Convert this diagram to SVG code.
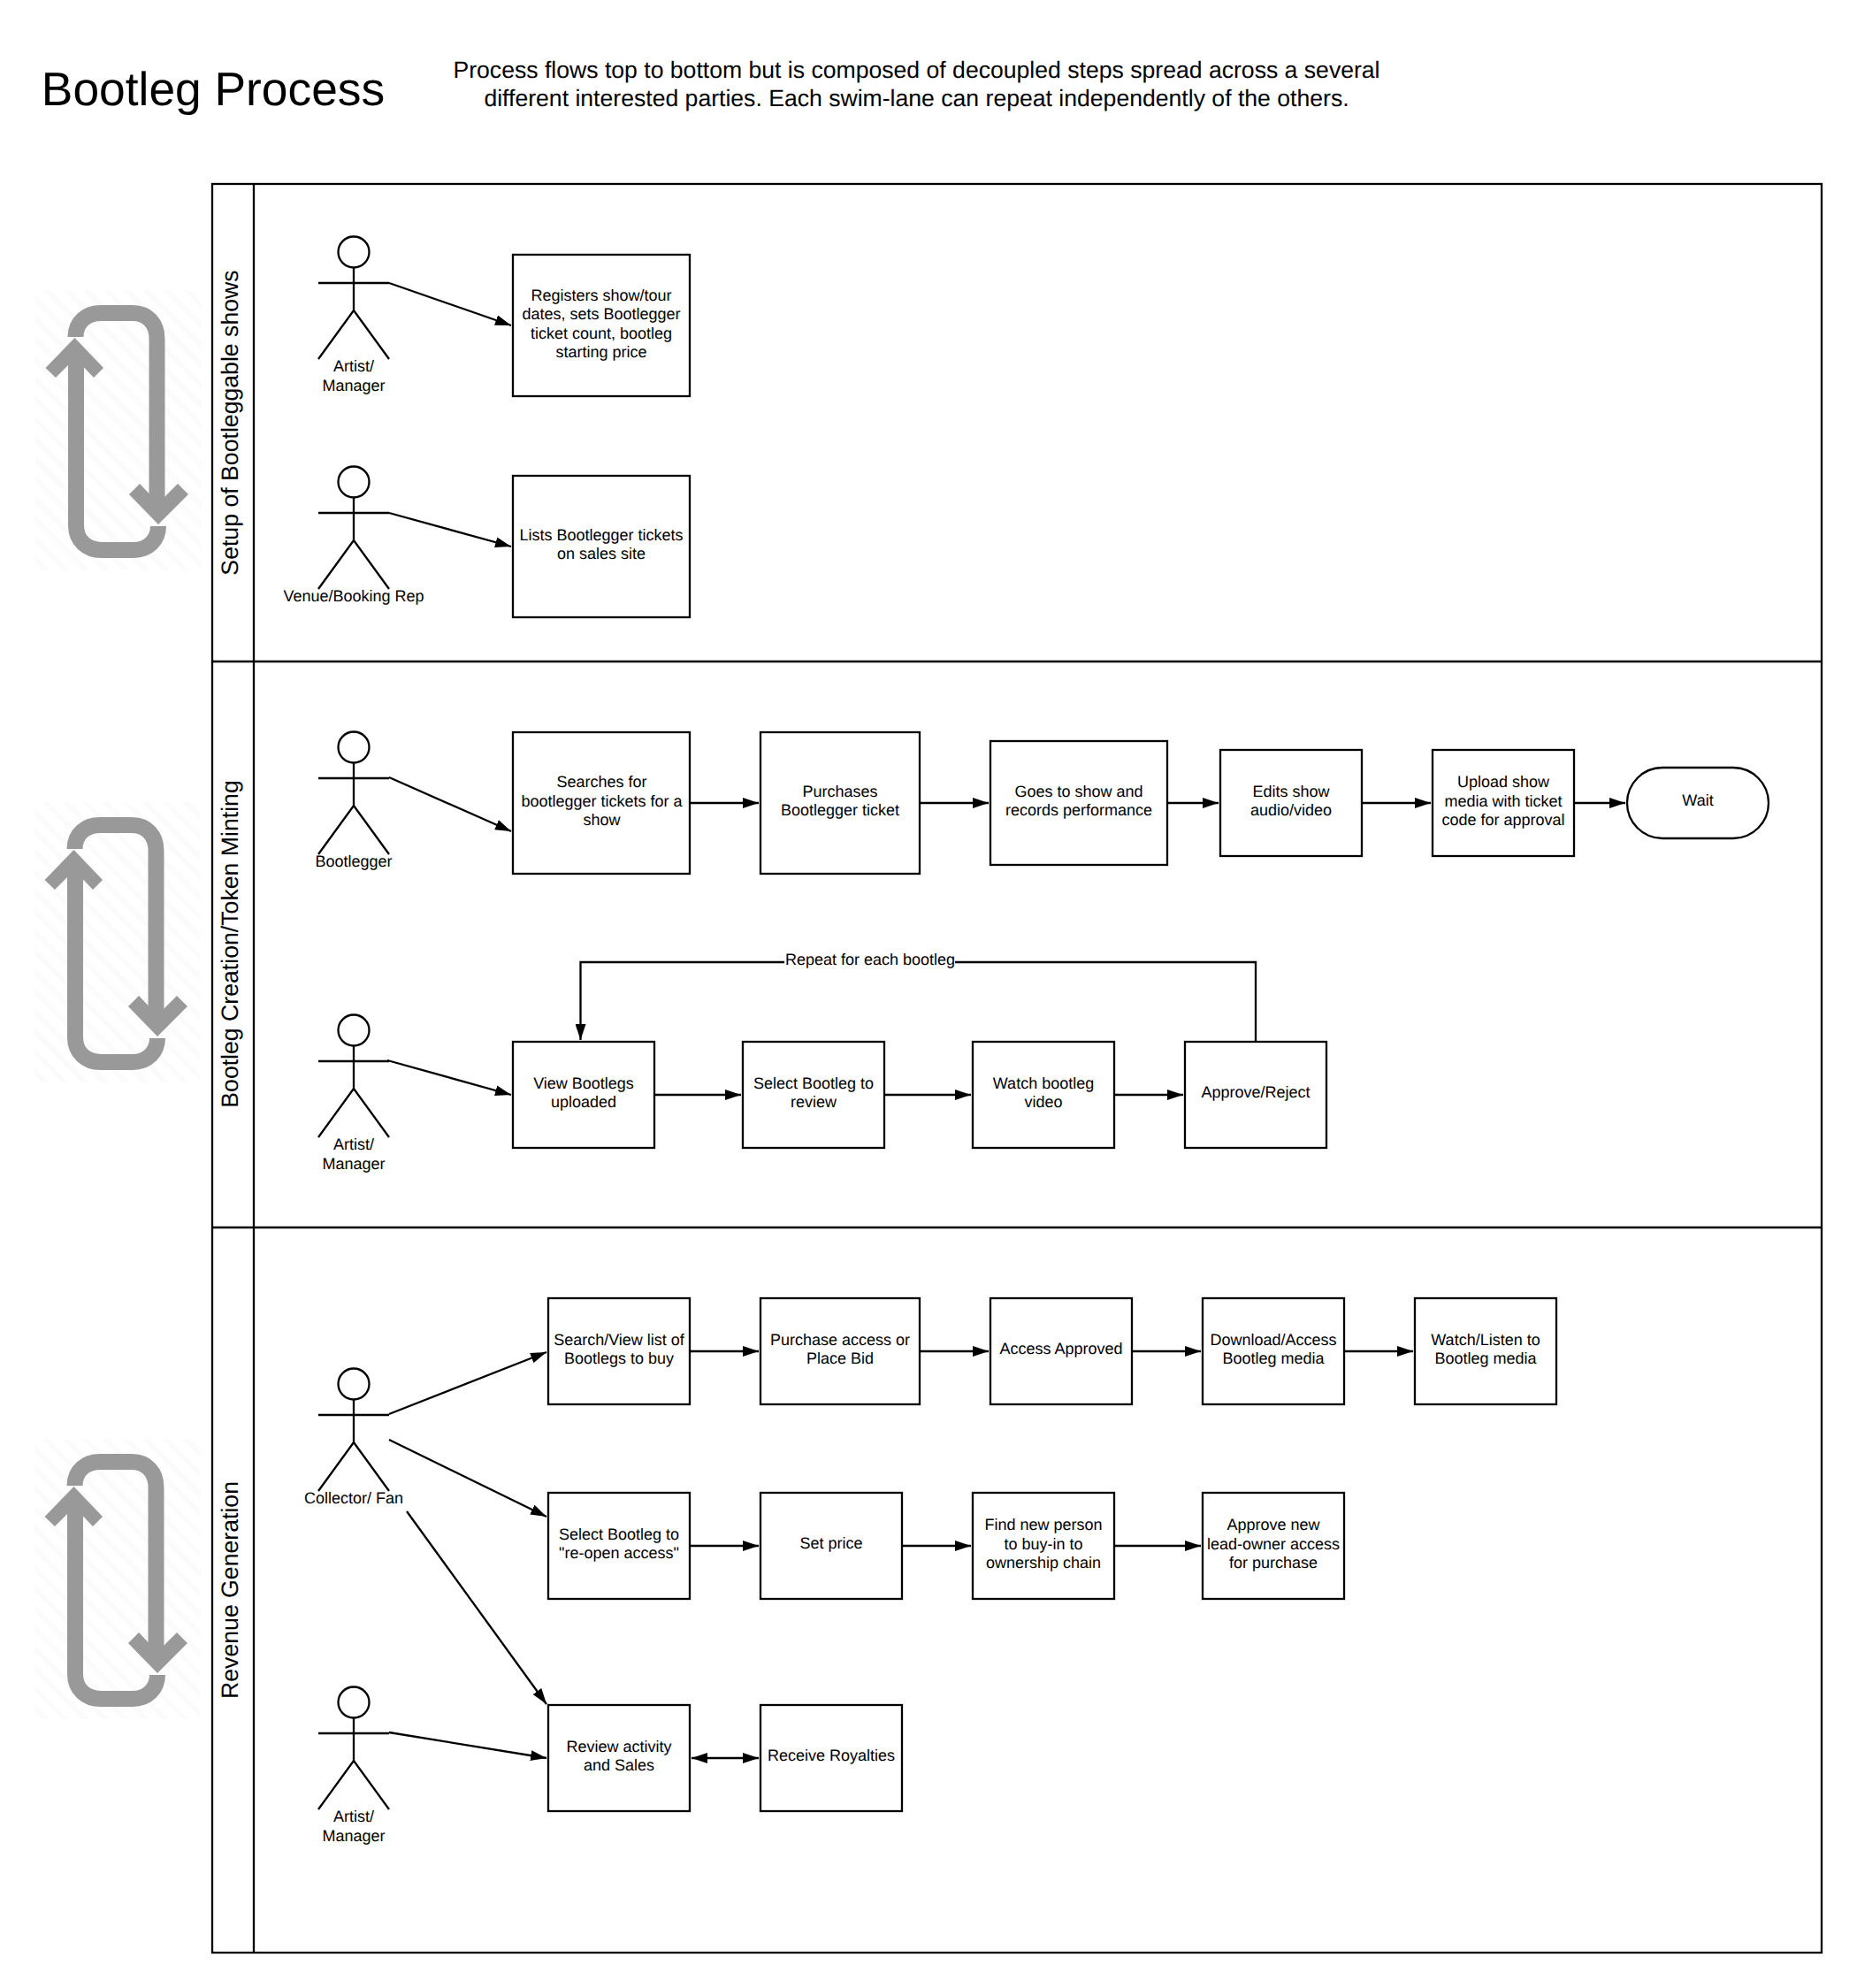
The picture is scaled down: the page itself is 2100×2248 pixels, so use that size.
<svg xmlns="http://www.w3.org/2000/svg" width="2100" height="2248" viewBox="0 0 2100 2248">
<style>
text{font-family:"Liberation Sans",Arial,sans-serif;fill:#000;text-anchor:middle;text-rendering:geometricPrecision}
.t{font-size:18px}
.box{fill:#fff;stroke:#000;stroke-width:2.3}
.ln{fill:none;stroke:#000;stroke-width:2.3}
.c{fill:none;stroke:#000;stroke-width:2.3;marker-end:url(#a)}
.lane{fill:none;stroke:#000;stroke-width:2.3}
.lt{font-size:26.67px}
.g{fill:none;stroke:#999;stroke-width:18}
.gf{fill:#999}
</style>
<defs>
<marker id="a" markerUnits="userSpaceOnUse" markerWidth="18" markerHeight="12" refX="18" refY="6" orient="auto"><path d="M0 0L18 6L0 12z" fill="#000"/></marker>
<marker id="b" markerUnits="userSpaceOnUse" markerWidth="18" markerHeight="12" refX="0" refY="6" orient="auto"><path d="M18 0L0 6L18 12z" fill="#000"/></marker>
<pattern id="h" patternUnits="userSpaceOnUse" width="16" height="16" patternTransform="rotate(45)"><rect width="16" height="16" fill="#fff"/><rect y="0" width="16" height="6" fill="#fbfbfb"/></pattern>
<g id="actor" class="ln"><circle cx="400" cy="0" r="17.5" fill="#fff"/><path d="M400 17.5V66M360 35H440M360 121L400 66L440 121"/></g>
<g id="loop"><rect x="40" y="328" width="188" height="317" fill="url(#h)"/><path class="g" d="M85.5 380V381C85.5 364 98 354 114 354H150C167 354 177.500 366 177.500 383V572"/><path class="g" d="M86 405V594C86 611 98 622 115 622H151C168 622 179 610 179 595"/><path class="gf" d="M84.500 382L117 416L106 427L85 405L63 427L51.500 416zM179 593L213 559L201 547L179 569L158 547L146 559z"/></g>
</defs>
<rect width="2100" height="2248" fill="#fff"/>
<g id="header">
<text x="241" y="119" style="font-size:53.33px">Bootleg Process</text>
<text x="1036.500" y="88" style="font-size:26.6px">Process flows top to bottom but is composed of decoupled steps spread across a several</text>
<text x="1036.500" y="120" style="font-size:26.6px">different interested parties. Each swim-lane can repeat independently of the others.</text>
</g>
<g id="loops"><use href="#loop"/><use href="#loop" x="-1" y="579"/><use href="#loop" x="-1" y="1299"/></g>
<g id="lanes">
<rect class="lane" x="240" y="208" width="1820" height="2000"/>
<path class="lane" d="M287 208V2208M240 748H2060M240 1388H2060"/>
<text class="lt" transform="translate(269 478) rotate(-90)">Setup of Bootleggable shows</text>
<text class="lt" transform="translate(269 1067.500) rotate(-90)">Bootleg Creation/Token Minting</text>
<text class="lt" transform="translate(269 1798) rotate(-90)">Revenue Generation</text>
</g>
<g id="connectors">
<path class="c" d="M440 320L578 368"/>
<path class="c" d="M440 580L578 618"/>
<path class="c" d="M440 879L578 940"/>
<path class="c" d="M438 1199L578 1238"/>
<path class="c" d="M780 908H858"/>
<path class="c" d="M1040 908H1118"/>
<path class="c" d="M1320 908H1378"/>
<path class="c" d="M1540 908H1618"/>
<path class="c" d="M1780 908H1838"/>
<path class="c" d="M740 1238H838"/>
<path class="c" d="M1000 1238H1098"/>
<path class="c" d="M1260 1238H1338"/>
<path class="c" d="M1420 1178V1088H656.500V1176"/>
<rect x="887" y="1074" width="193" height="24" fill="#fff"/>
<text class="t" x="984" y="1091">Repeat for each bootleg</text>
<path class="c" d="M440 1599L618 1529"/>
<path class="c" d="M440 1628L618 1715"/>
<path class="c" d="M460 1709L618 1927"/>
<path class="c" d="M440 1959L618 1988"/>
<path class="c" d="M780 1528H858"/>
<path class="c" d="M1040 1528H1118"/>
<path class="c" d="M1280 1528H1358"/>
<path class="c" d="M1520 1528H1598"/>
<path class="c" d="M780 1748H858"/>
<path class="c" d="M1020 1748H1098"/>
<path class="c" d="M1260 1748H1358"/>
<path class="c" d="M782 1988H858" style="marker-start:url(#b)"/>
</g>
<g id="actor-artist-1"><use href="#actor" y="285"/><text class="t" x="400" y="420">Artist/</text><text class="t" x="400" y="442">Manager</text></g>
<g id="actor-venue"><use href="#actor" y="545"/><text class="t" x="400" y="680">Venue/Booking Rep</text></g>
<g id="actor-bootlegger"><use href="#actor" y="845"/><text class="t" x="400" y="980">Bootlegger</text></g>
<g id="actor-artist-2"><use href="#actor" y="1165"/><text class="t" x="400" y="1300">Artist/</text><text class="t" x="400" y="1322">Manager</text></g>
<g id="actor-collector"><use href="#actor" y="1565"/><text class="t" x="400" y="1700">Collector/ Fan</text></g>
<g id="actor-artist-3"><use href="#actor" y="1925"/><text class="t" x="400" y="2060">Artist/</text><text class="t" x="400" y="2082">Manager</text></g>
<g id="n-registers"><rect class="box" x="580" y="288" width="200" height="160"/><text class="t" x="680" y="340">Registers show/tour</text><text class="t" x="680" y="361">dates, sets Bootlegger</text><text class="t" x="680" y="383">ticket count, bootleg</text><text class="t" x="680" y="404">starting price</text></g>
<g id="n-lists"><rect class="box" x="580" y="538" width="200" height="160"/><text class="t" x="680" y="611">Lists Bootlegger tickets</text><text class="t" x="680" y="632">on sales site</text></g>
<g id="n-searches"><rect class="box" x="580" y="828" width="200" height="160"/><text class="t" x="680.500" y="890">Searches for</text><text class="t" x="680.500" y="912">bootlegger tickets for a</text><text class="t" x="680.500" y="933">show</text></g>
<g id="n-purchases"><rect class="box" x="860" y="828" width="180" height="160"/><text class="t" x="950" y="901">Purchases</text><text class="t" x="950" y="922">Bootlegger ticket</text></g>
<g id="n-goes"><rect class="box" x="1120" y="838" width="200" height="140"/><text class="t" x="1220" y="901">Goes to show and</text><text class="t" x="1220" y="922">records performance</text></g>
<g id="n-edits"><rect class="box" x="1380" y="848" width="160" height="120"/><text class="t" x="1460" y="901">Edits show</text><text class="t" x="1460" y="922">audio/video</text></g>
<g id="n-upload"><rect class="box" x="1620" y="848" width="160" height="120"/><text class="t" x="1700" y="890">Upload show</text><text class="t" x="1700" y="912">media with ticket</text><text class="t" x="1700" y="933">code for approval</text></g>
<g id="n-wait"><rect class="box" x="1840" y="868" width="160" height="80" rx="40"/><text class="t" x="1920" y="911">Wait</text></g>
<g id="n-view"><rect class="box" x="580" y="1178" width="160" height="120"/><text class="t" x="660" y="1231">View Bootlegs</text><text class="t" x="660" y="1252">uploaded</text></g>
<g id="n-select"><rect class="box" x="840" y="1178" width="160" height="120"/><text class="t" x="920" y="1231">Select Bootleg to</text><text class="t" x="920" y="1252">review</text></g>
<g id="n-watch"><rect class="box" x="1100" y="1178" width="160" height="120"/><text class="t" x="1180" y="1231">Watch bootleg</text><text class="t" x="1180" y="1252">video</text></g>
<g id="n-approve"><rect class="box" x="1340" y="1178" width="160" height="120"/><text class="t" x="1420" y="1241">Approve/Reject</text></g>
<g id="n-search"><rect class="box" x="620" y="1468" width="160" height="120"/><text class="t" x="700" y="1521">Search/View list of</text><text class="t" x="700" y="1542">Bootlegs to buy</text></g>
<g id="n-purchase"><rect class="box" x="860" y="1468" width="180" height="120"/><text class="t" x="950" y="1521">Purchase access or</text><text class="t" x="950" y="1542">Place Bid</text></g>
<g id="n-access"><rect class="box" x="1120" y="1468" width="160" height="120"/><text class="t" x="1200" y="1531">Access Approved</text></g>
<g id="n-download"><rect class="box" x="1360" y="1468" width="160" height="120"/><text class="t" x="1440" y="1521">Download/Access</text><text class="t" x="1440" y="1542">Bootleg media</text></g>
<g id="n-listen"><rect class="box" x="1600" y="1468" width="160" height="120"/><text class="t" x="1680" y="1521">Watch/Listen to</text><text class="t" x="1680" y="1542">Bootleg media</text></g>
<g id="n-reopen"><rect class="box" x="620" y="1688" width="160" height="120"/><text class="t" x="700" y="1741">Select Bootleg to</text><text class="t" x="700" y="1762">"re-open access"</text></g>
<g id="n-price"><rect class="box" x="860" y="1688" width="160" height="120"/><text class="t" x="940" y="1751">Set price</text></g>
<g id="n-find"><rect class="box" x="1100" y="1688" width="160" height="120"/><text class="t" x="1180" y="1730">Find new person</text><text class="t" x="1180" y="1752">to buy-in to</text><text class="t" x="1180" y="1773">ownership chain</text></g>
<g id="n-newowner"><rect class="box" x="1360" y="1688" width="160" height="120"/><text class="t" x="1440" y="1730">Approve new</text><text class="t" x="1440" y="1752">lead-owner access</text><text class="t" x="1440" y="1773">for purchase</text></g>
<g id="n-review"><rect class="box" x="620" y="1928" width="160" height="120"/><text class="t" x="700" y="1981">Review activity</text><text class="t" x="700" y="2002">and Sales</text></g>
<g id="n-royalties"><rect class="box" x="860" y="1928" width="160" height="120"/><text class="t" x="940" y="1991">Receive Royalties</text></g>
</svg>
